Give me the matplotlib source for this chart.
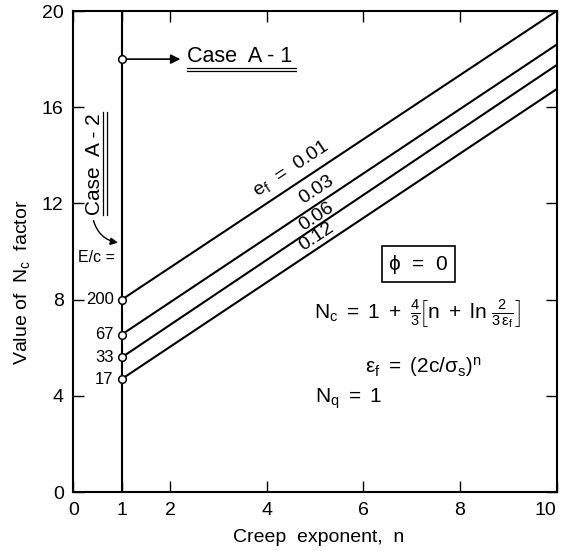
import numpy as np
import matplotlib
matplotlib.use("Agg")
import matplotlib.pyplot as plt
from matplotlib.patches import FancyArrowPatch

plt.rcParams['font.family'] = ['Liberation Sans', 'DejaVu Sans']
plt.rcParams['mathtext.fontset'] = 'custom'
plt.rcParams['mathtext.rm'] = 'Liberation Sans'
plt.rcParams['mathtext.it'] = 'Liberation Sans'
plt.rcParams['mathtext.bf'] = 'Liberation Sans:bold'

# ---- data ----
n_range = [1, 10]
strain_labels = ["0.01", "0.03", "0.06", "0.12"]
nc_at_n1 = [8.0, 6.55, 5.6, 4.7]
nc_at_n10 = [20.0, 18.6, 17.75, 16.75]
e_over_c = ["200", "67", "33", "17"]
case_a1_n = 1
case_a1_nc = 18.0
xticks = [0, 1, 2, 4, 6, 8, 10]
yticks = [0, 4, 8, 12, 16, 20]

fig = plt.figure(figsize=(5.65, 5.51), dpi=100)
ax = fig.add_axes([0.130, 0.107, 0.855, 0.873])
ax.set_xlim(0, 10)
ax.set_ylim(0, 20)

# main lines
for y0, y1 in zip(nc_at_n1, nc_at_n10):
    ax.plot(n_range, [y0, y1], color='black', lw=1.5, solid_capstyle='butt', zorder=3)

# vertical line at n = 1
ax.axvline(case_a1_n, color='black', lw=1.5, zorder=3)

# markers
ax.plot([case_a1_n] * len(nc_at_n1), nc_at_n1, 'o', ms=5.5, mfc='white', mec='black',
        mew=1.1, zorder=5)
ax.plot([case_a1_n], [case_a1_nc], 'o', ms=5.5, mfc='white', mec='black', mew=1.1, zorder=5)

# E/c labels
for y, lab in zip(nc_at_n1, e_over_c):
    ax.text(0.83, y, lab, ha='right', va='center', fontsize=12)
ax.text(0.86, 9.75, "E/c =", ha='right', va='center', fontsize=11.5)

# line labels rotated along lines
def screen_angle(i):
    p0 = ax.transData.transform((n_range[0], nc_at_n1[i]))
    p1 = ax.transData.transform((n_range[1], nc_at_n10[i]))
    return np.degrees(np.arctan2(p1[1] - p0[1], p1[0] - p0[0]))

label_pos = [(4.5, 13.45), (5.03, 12.55), (5.03, 11.45), (5.03, 10.6)]
for i, (lab, (lx, ly)) in enumerate(zip(strain_labels, label_pos)):
    txt = lab if i else r"e$_\mathrm{f}$  =  " + lab
    ax.text(lx, ly, txt, ha='center', va='center', rotation=screen_angle(i),
            rotation_mode='anchor', fontsize=14)

# Case A-1
ax.add_patch(FancyArrowPatch((case_a1_n + 0.05, case_a1_nc), (2.27, case_a1_nc),
                             arrowstyle='-|>', mutation_scale=14, color='black', lw=1.2))
ax.text(2.35, 18.1, "Case  A - 1", ha='left', va='center', fontsize=15.5)
for yy in (17.63, 17.52):
    ax.plot([2.35, 4.6], [yy, yy], color='black', lw=0.9)

# Case A-2
ax.text(0.44, 13.65, "Case  A - 2", ha='center', va='center', rotation=90, fontsize=15)
for xx in (0.61, 0.69):
    ax.plot([xx, xx], [11.5, 15.8], color='black', lw=0.9)
ax.add_patch(FancyArrowPatch((0.40, 11.4), (0.98, 10.35),
                             connectionstyle='arc3,rad=0.35', arrowstyle='-|>',
                             mutation_scale=11, color='black', lw=1.0))

# phi box and formulas
ax.text(7.14, 9.48, r"$\phi$  =  0", ha='center', va='center', fontsize=15,
        bbox=dict(boxstyle='square,pad=0.3', fc='white', ec='black', lw=1.2))
ax.text(4.97, 7.4,
        r"$\mathrm{N_c\ =\ 1\ +\ \frac{4}{3}\!\left[n\ +\ ln\ \frac{2}{3\,\epsilon_f}\right]}$",
        ha='left', va='center', fontsize=15)
ax.text(7.23, 5.24, r"$\mathrm{\epsilon_f\ =\ \left(2c/\sigma_s\right)^n}$",
        ha='center', va='center', fontsize=15)
ax.text(5.0, 3.87, r"$\mathrm{N_q\ =\ 1}$", ha='left', va='center', fontsize=15)

# axes styling
ax.set_xticks(xticks)
ax.set_yticks(yticks)
ax.tick_params(direction='in', length=8, width=1.0, top=True, right=True,
               labelsize=14, pad=7)
ax.get_xticklabels()[-1].set_horizontalalignment('right')
for s in ax.spines.values():
    s.set_linewidth(1.5)
ax.set_xlabel("Creep  exponent,  n", fontsize=14)
ax.xaxis.set_label_coords(0.508, -0.077)
ax.set_ylabel(r"Value of  N$_\mathrm{c}$  factor", fontsize=14)
ax.yaxis.set_label_coords(-0.086, 0.435)

fig.savefig("out.png", dpi=100)
